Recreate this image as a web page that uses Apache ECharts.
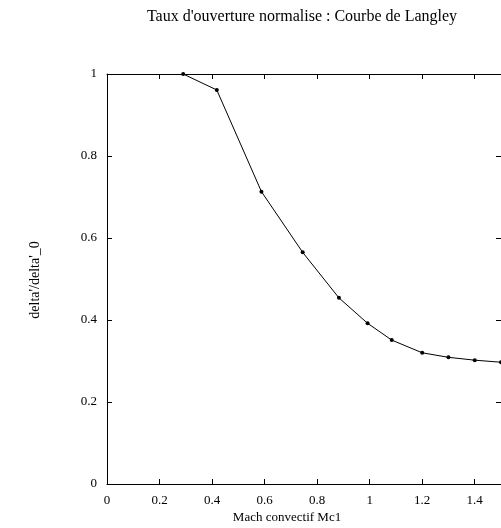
<!DOCTYPE html>
<html>
<head>
<meta charset="utf-8">
<script src="https://cdn.jsdelivr.net/npm/echarts@6/dist/echarts.min.js"></script>
<style>
  html, body { margin: 0; padding: 0; background: #fff; }
  #chart { width: 501px; height: 528px; }
</style>
</head>
<body>
<div id="chart"></div>
<script>
// Courbe de Langley : taux d'ouverture normalisé en fonction du Mach convectif
const machConvectif = [0.29, 0.418, 0.588, 0.745, 0.883, 0.992, 1.084, 1.2, 1.3, 1.4, 1.5];
const tauxOuverture = [1.0, 0.961, 0.713, 0.565, 0.454, 0.392, 0.351, 0.32, 0.309, 0.302, 0.297];
const xTicks = [0, 0.2, 0.4, 0.6, 0.8, 1, 1.2, 1.4];
const yTicks = [0, 0.2, 0.4, 0.6, 0.8, 1];

const serif = '"Liberation Serif", "DejaVu Serif", serif';
const chart = echarts.init(document.getElementById('chart'), null, { renderer: 'canvas' });

const axisLine = { show: true, onZero: false, lineStyle: { color: '#000', width: 1 } };
const tick = { show: true, inside: true, length: 5, lineStyle: { color: '#000', width: 1 } };

function fmtX(v) {
  return xTicks.some(t => Math.abs(t - v) < 1e-9) ? String(+v.toFixed(1)) : '';
}
function fmtY(v) {
  return yTicks.some(t => Math.abs(t - v) < 1e-9) ? String(+v.toFixed(1)) : '';
}

chart.setOption({
  backgroundColor: '#fff',
  animation: false,
  grid: { left: 107, top: 74, width: 398, height: 410 },
  graphic: [
    {
      type: 'text', x: 302, y: 17,
      style: { text: "Taux d'ouverture normalise : Courbe de Langley", font: '16px ' + serif,
               fill: '#000', textAlign: 'center', textVerticalAlign: 'middle' }
    },
    {
      type: 'text', x: 287, y: 518,
      style: { text: 'Mach convectif Mc1', font: '13px ' + serif,
               fill: '#000', textAlign: 'center', textVerticalAlign: 'middle' }
    },
    {
      type: 'text', x: 35, y: 280, rotation: Math.PI / 2,
      style: { text: "delta'/delta'_0", font: '14px ' + serif,
               fill: '#000', textAlign: 'center', textVerticalAlign: 'middle' }
    }
  ],
  xAxis: [
    {
      type: 'value', position: 'bottom', min: 0, max: 1.5, interval: 0.2,
      axisLine, axisTick: tick, splitLine: { show: false },
      axisLabel: { color: '#000', fontFamily: serif, fontSize: 13, margin: 10,
                   showMaxLabel: false, formatter: fmtX }
    },
    {
      type: 'value', position: 'top', min: 0, max: 1.5, interval: 0.2,
      axisLine, axisTick: tick, splitLine: { show: false }, axisLabel: { show: false }
    }
  ],
  yAxis: [
    {
      type: 'value', position: 'left', min: 0, max: 1, interval: 0.2,
      axisLine, axisTick: tick, splitLine: { show: false },
      axisLabel: { color: '#000', fontFamily: serif, fontSize: 13, margin: 10, formatter: fmtY }
    },
    {
      type: 'value', position: 'right', min: 0, max: 1, interval: 0.2,
      axisLine, axisTick: tick, splitLine: { show: false }, axisLabel: { show: false }
    }
  ],
  series: [{
    type: 'line',
    data: machConvectif.map((m, i) => [m, tauxOuverture[i]]),
    symbol: 'circle', symbolSize: 4,
    itemStyle: { color: '#000' },
    lineStyle: { color: '#000', width: 1 }
  }]
});
</script>
</body>
</html>
